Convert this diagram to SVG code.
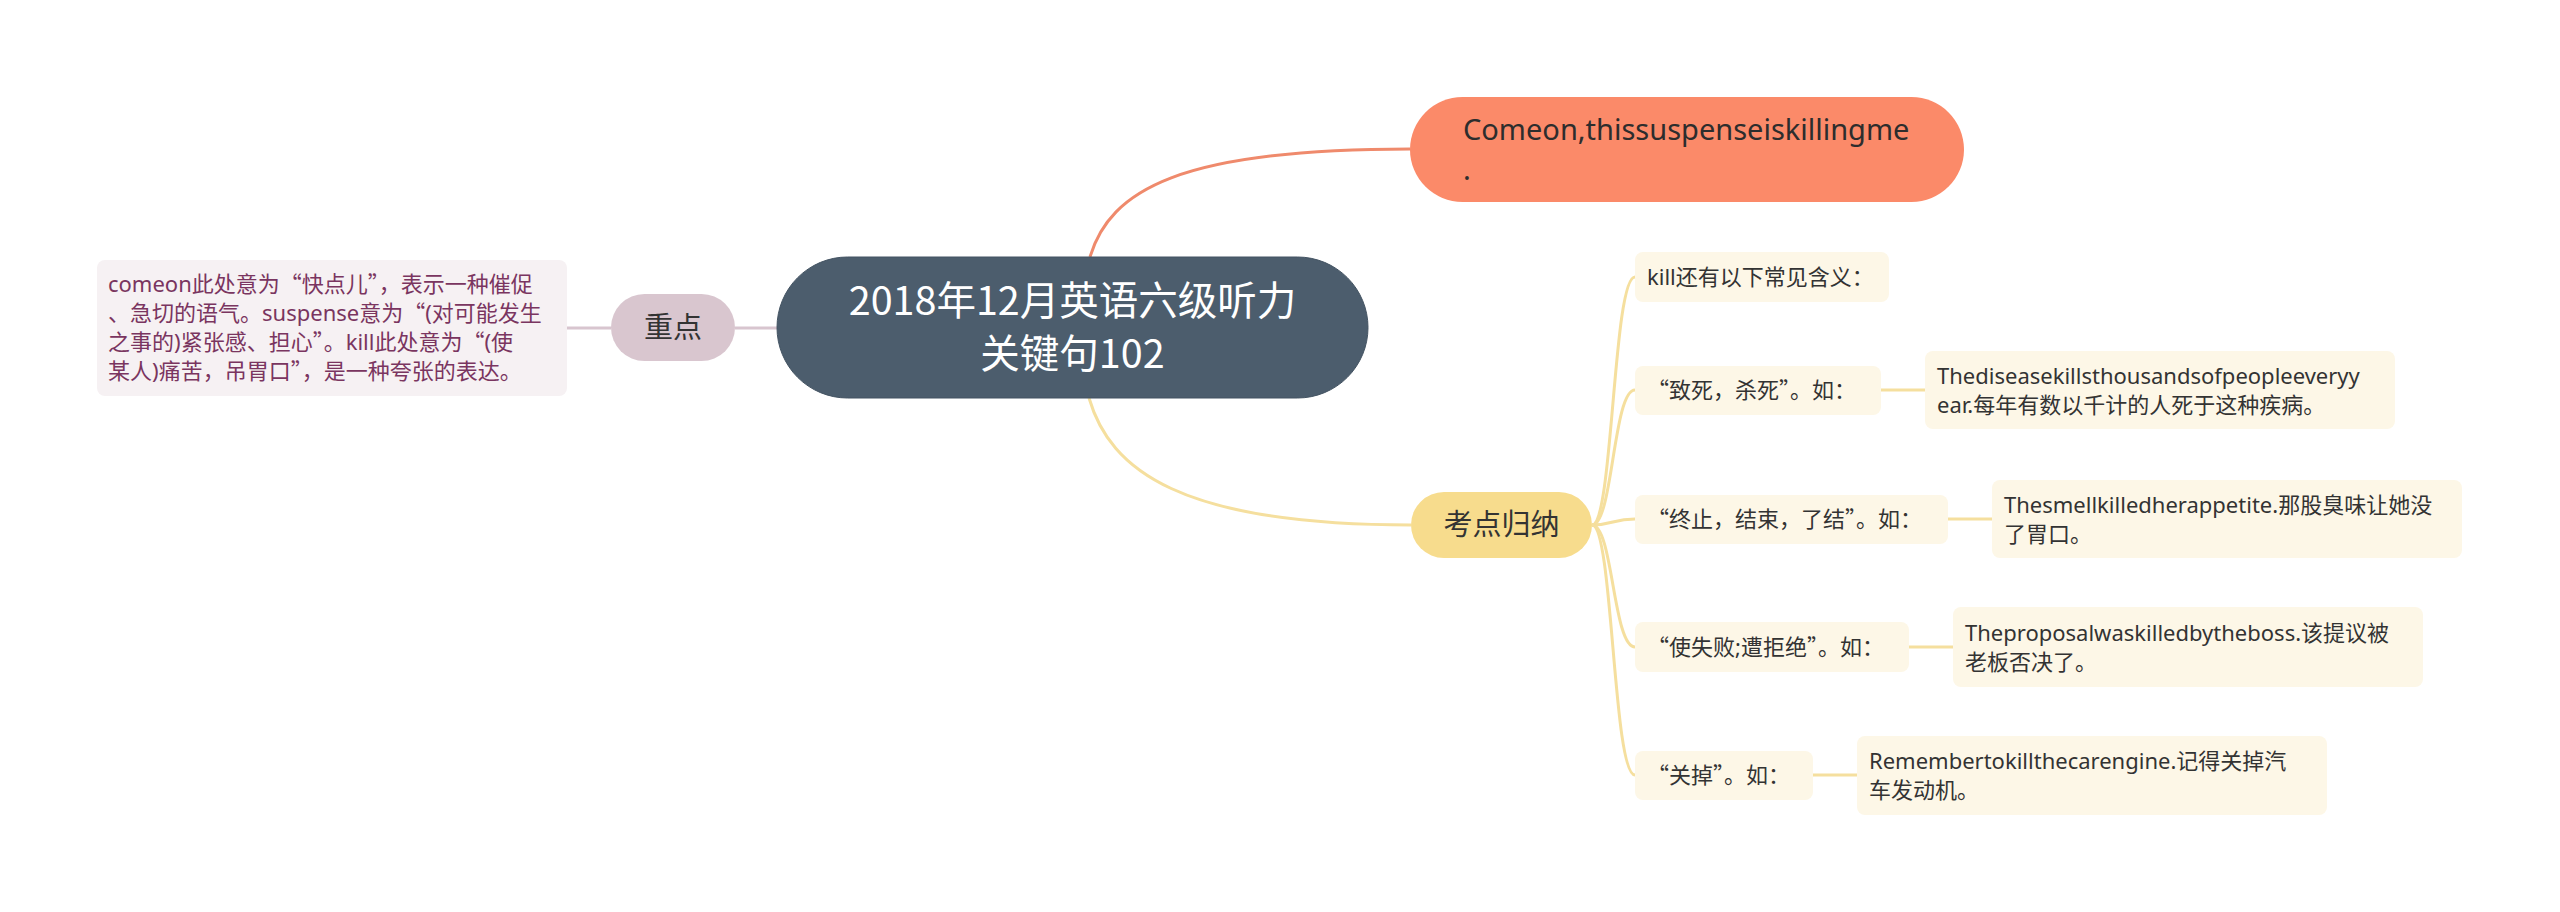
<svg xmlns="http://www.w3.org/2000/svg" width="2560" height="912" viewBox="0 0 2560 912">
<style>
text{font-family:"Noto Sans CJK SC","Noto Sans",sans-serif;}
.l{font-family:"Noto Sans","Noto Sans CJK SC",sans-serif;}
.leafbox{fill:#fdf7e7;}
.leaf{font-size:22px;fill:#333333;}
.yl{fill:none;stroke:#f5df9e;stroke-width:3;}
</style>
<rect width="2560" height="912" fill="#ffffff"/>
<g id="connectors">
<path d="M1090,257 C1110,190 1180,149 1410,149" fill="none" stroke="#ef8a6c" stroke-width="3"/>
<path d="M1089,398 C1110,470 1180,525 1411,525" class="yl"/>
<path d="M777,328 H735" fill="none" stroke="#d8c5cf" stroke-width="3"/>
<path d="M611,328 H567" fill="none" stroke="#d8c5cf" stroke-width="3"/>
<path d="M1592,525 C1613,525 1613,277 1635,277" class="yl"/>
<path d="M1592,525 C1613,525 1613,390 1635,390" class="yl"/>
<path d="M1592,525 C1613,525 1613,519 1635,519" class="yl"/>
<path d="M1592,525 C1613,525 1613,647 1635,647" class="yl"/>
<path d="M1592,525 C1613,525 1613,775 1635,775" class="yl"/>
<path d="M1881,390 H1925" class="yl"/>
<path d="M1948,519 H1992" class="yl"/>
<path d="M1909,647 H1953" class="yl"/>
<path d="M1813,775 H1857" class="yl"/>
</g>
<g id="center">
<rect x="777" y="257" width="591" height="141" rx="70.5" fill="#4c5d6d" stroke="#435362" stroke-width="1"/>
<text x="1072.5" y="315" font-size="39.5" fill="#ffffff" text-anchor="middle">2018年12月英语六级听力</text>
<text x="1072.5" y="368" font-size="39.5" fill="#ffffff" text-anchor="middle">关键句102</text>
</g>
<g id="orange">
<rect x="1410" y="97" width="554" height="105" rx="52.5" fill="#fb8a69"/>
<text class="l" x="1463" y="140" font-size="29" fill="#2d2d2d">Comeon,thissuspenseiskillingme</text>
<text class="l" x="1463" y="180" font-size="29" fill="#2d2d2d">.</text>
</g>
<g id="zhongdian">
<rect x="611" y="294" width="124" height="67" rx="33.5" fill="#d9c6cf"/>
<text x="673" y="338" font-size="29" fill="#333333" text-anchor="middle">重点</text>
</g>
<g id="detail">
<rect x="97" y="260" width="470" height="136" rx="8" fill="#f6f1f3"/>
<text x="108" y="292" font-size="22" fill="#7a3560"><tspan class="l">comeon</tspan>此处意为“快点儿”，表示一种催促</text>
<text x="108" y="321" font-size="22" fill="#7a3560">、急切的语气。<tspan class="l">suspense</tspan>意为“<tspan class="l">(</tspan>对可能发生</text>
<text x="108" y="350" font-size="22" fill="#7a3560">之事的<tspan class="l">)</tspan>紧张感、担心”。<tspan class="l">kill</tspan>此处意为“<tspan class="l">(</tspan>使</text>
<text x="108" y="379" font-size="22" fill="#7a3560">某人<tspan class="l">)</tspan>痛苦，吊胃口”，是一种夸张的表达。</text>
</g>
<g id="kaodian">
<rect x="1411" y="492" width="181" height="66" rx="33" fill="#f7dc8d"/>
<text x="1501.5" y="535" font-size="29" fill="#333333" text-anchor="middle">考点归纳</text>
</g>
<g id="kill">
<rect class="leafbox" x="1635" y="252" width="254" height="50" rx="8"/>
<text class="leaf" x="1647" y="285"><tspan class="l">kill</tspan>还有以下常见含义：</text>
</g>
<g id="zhisi">
<rect class="leafbox" x="1635" y="366" width="246" height="49" rx="8"/>
<text class="leaf" x="1647" y="398">“致死，杀死”。如：</text>
</g>
<g id="disease">
<rect class="leafbox" x="1925" y="351" width="470" height="78" rx="8"/>
<text class="leaf" x="1937" y="383.5"><tspan class="l">Thediseasekillsthousandsofpeopleeveryy</tspan></text>
<text class="leaf" x="1937" y="412.5"><tspan class="l">ear.</tspan>每年有数以千计的人死于这种疾病。</text>
</g>
<g id="zhongzhi">
<rect class="leafbox" x="1635" y="495" width="313" height="49" rx="8"/>
<text class="leaf" x="1647" y="527">“终止，结束，了结”。如：</text>
</g>
<g id="smell">
<rect class="leafbox" x="1992" y="480" width="470" height="78" rx="8"/>
<text class="leaf" x="2004" y="512.5"><tspan class="l">Thesmellkilledherappetite.</tspan>那股臭味让她没</text>
<text class="leaf" x="2004" y="541.5">了胃口。</text>
</g>
<g id="shishibai">
<rect class="leafbox" x="1635" y="622" width="274" height="50" rx="8"/>
<text class="leaf" x="1647" y="655">“使失败<tspan class="l">;</tspan>遭拒绝”。如：</text>
</g>
<g id="proposal">
<rect class="leafbox" x="1953" y="607" width="470" height="80" rx="8"/>
<text class="leaf" x="1965" y="640.5"><tspan class="l">Theproposalwaskilledbytheboss.</tspan>该提议被</text>
<text class="leaf" x="1965" y="669.5">老板否决了。</text>
</g>
<g id="guandiao">
<rect class="leafbox" x="1635" y="751" width="178" height="49" rx="8"/>
<text class="leaf" x="1647" y="783">“关掉”。如：</text>
</g>
<g id="remember">
<rect class="leafbox" x="1857" y="736" width="470" height="79" rx="8"/>
<text class="leaf" x="1869" y="769"><tspan class="l">Remembertokillthecarengine.</tspan>记得关掉汽</text>
<text class="leaf" x="1869" y="798">车发动机。</text>
</g>
</svg>
